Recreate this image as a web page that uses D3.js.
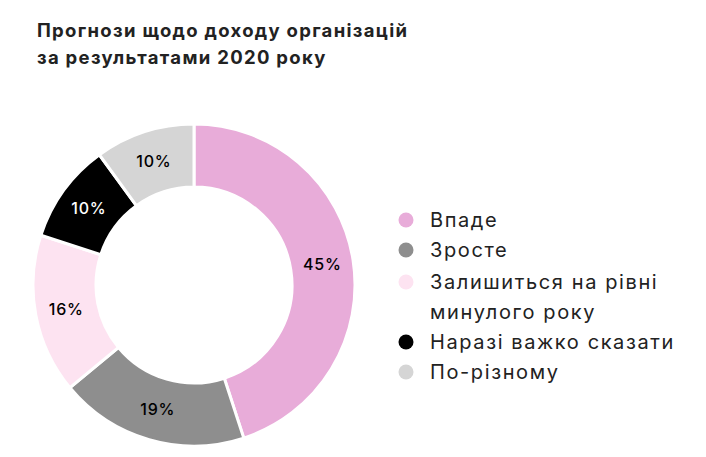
<!DOCTYPE html>
<html><head><meta charset="utf-8">
<script src="https://cdn.jsdelivr.net/npm/d3@7"></script>
<style>body{margin:0;background:#fff;font-family:Inter,"Open Sans",sans-serif;}</style>
</head><body>
<svg id="c" width="706" height="457"></svg>
<script>
const categories = ["Впаде","Зросте","Залишиться на рівні\nминулого року","Наразі важко сказати","По-різному"];
const values = [45,19,16,10,10];
const colors = ["#e8acd9","#8e8e8e","#fde3f1","#000000","#d5d5d5"];
const labelColors = ["#000","#000","#000","#fff","#000"];

const svg = d3.select("#c");
svg.append("text").attr("x",37).attr("y",37).attr("font-size",18.5).attr("font-weight",700).attr("letter-spacing",1.3).attr("fill","#222").text("Прогнози щодо доходу організацій");
svg.append("text").attr("x",37).attr("y",64).attr("font-size",18.5).attr("font-weight",700).attr("letter-spacing",1.3).attr("fill","#222").text("за результатами 2020 року");

const g = svg.append("g").attr("transform","translate(194,285)");
const pie = d3.pie().sort(null).value(d=>d);
const arc = d3.arc().innerRadius(98).outerRadius(161);
const lab = d3.arc().innerRadius(130).outerRadius(130);
const arcs = pie(values);
g.selectAll("path").data(arcs).join("path").attr("d",arc)
  .attr("fill",(d,i)=>colors[i]).attr("stroke","#fff").attr("stroke-width",3);
g.selectAll("text").data(arcs).join("text")
  .attr("transform",d=>`translate(${lab.centroid(d)})`)
  .attr("text-anchor","middle").attr("dy","0.35em")
  .attr("font-size",16).attr("font-weight",500).attr("letter-spacing",0.8)
  .attr("fill",(d,i)=>labelColors[i]).text(d=>d.data+"%");

const legY = [220,250,282,342,372];
const lg = svg.append("g");
categories.forEach((c,i)=>{
  lg.append("circle").attr("cx",406).attr("cy",legY[i]).attr("r",7.5).attr("fill",colors[i]);
  c.split("\n").forEach((line,j)=>{
    lg.append("text").attr("x",430).attr("y",legY[i]+j*30).attr("dy","0.35em")
      .attr("font-size",20).attr("letter-spacing",1.6).attr("fill","#222").text(line);
  });
});
</script>
</body></html>
